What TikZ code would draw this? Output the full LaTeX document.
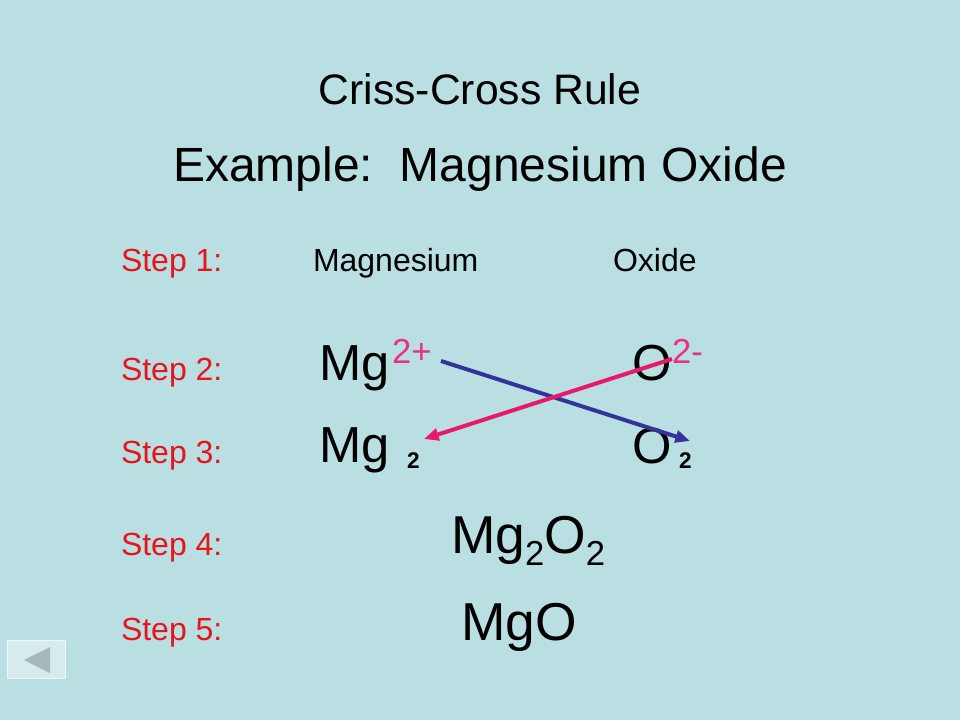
\documentclass[tikz,border=0pt]{standalone}
\usepackage{fontspec}
\setmainfont{Liberation Sans}
\usetikzlibrary{arrows.meta}
\definecolor{bgc}{HTML}{B9DFE3}
\definecolor{btnc}{HTML}{D5EBEE}
\definecolor{tric}{HTML}{A7B8BB}
\definecolor{pinkc}{HTML}{E8196B}
\definecolor{pinktxt}{HTML}{EC2F86}
\definecolor{bluec}{HTML}{333399}
\definecolor{stepred}{HTML}{E8141B}
\begin{document}
\begin{tikzpicture}[x=0.75pt,y=-0.75pt,
  txt/.style={anchor=base west,inner sep=0pt,outer sep=0pt},
  steplbl/.style={txt,text=stepred,font=\fontsize{24}{28}\selectfont},
  word/.style={txt,font=\fontsize{24}{28}\selectfont},
  big/.style={txt,font=\fontsize{38}{44}\selectfont},
  charge/.style={txt,text=pinktxt,font=\fontsize{26}{30}\selectfont},
  subb/.style={txt,font=\fontsize{17}{20}\selectfont\bfseries},
  crossarrow/.style={line width=3pt,-{Triangle[length=11pt,width=9pt]}}]
\fill[bgc] (0,0) rectangle (960,720);
\useasboundingbox (0,0) rectangle (960,720);
% titles
\node[anchor=base,inner sep=0pt,font=\fontsize{32}{38}\selectfont] (title) at (480,105) {Criss-Cross Rule};
\node[anchor=base,inner sep=0pt,font=\fontsize{36}{42}\selectfont] (example) at (480,182) {Example:\ \ Magnesium Oxide};
% step labels
\node[steplbl] (s1) at (121,272) {Step 1:};
\node[steplbl] (s2) at (121,380) {Step 2:};
\node[steplbl] (s3) at (121,463) {Step 3:};
\node[steplbl] (s4) at (121,555) {Step 4:};
\node[steplbl] (s5) at (121,640) {Step 5:};
% step 1
\node[word] (mgname) at (313,272) {Magnesium};
\node[word] (oxname) at (613,272) {Oxide};
% step 2
\node[big] (mg1) at (319,380) {Mg};
\node[charge] (mgchg) at (392,363) {2+};
\node[big] (o1) at (632,380) {O};
\node[charge] (ochg) at (672,363) {2-};
% step 3
\node[big] (mg2) at (319,462) {Mg};
\node[subb] (mgsub) at (407,468) {2};
\node[big] (o2) at (632,463) {O};
\node[subb] (osub) at (679,468) {2};
% step 4
\node[txt,font=\fontsize{40}{46}\selectfont] (mg2o2) at (451,553) {Mg\raisebox{-9pt}{\fontsize{26}{30}\selectfont 2}O\raisebox{-9pt}{\fontsize{26}{30}\selectfont 2}};
% step 5
\node[txt,font=\fontsize{40}{46}\selectfont] (mgo) at (461,640) {MgO};
% arrows
\coordinate (bstart) at (441,361);
\coordinate (bend) at (690,441);
\coordinate (pstart) at (672,359);
\coordinate (pend) at (424,439);
\draw[crossarrow,draw=bluec,fill=bluec] (bstart) -- (bend);
\draw[crossarrow,draw=pinkc,fill=pinkc] (pstart) -- (pend);
% back button
\node[draw=white!60!btnc,line width=0.6pt,fill=btnc,minimum width=43pt,minimum height=29pt,inner sep=0pt] (btn) at (36.5,659.5) {};
\fill[tric] (24,660) -- (50,647) -- (50,673) -- cycle;
\end{tikzpicture}
\end{document}
